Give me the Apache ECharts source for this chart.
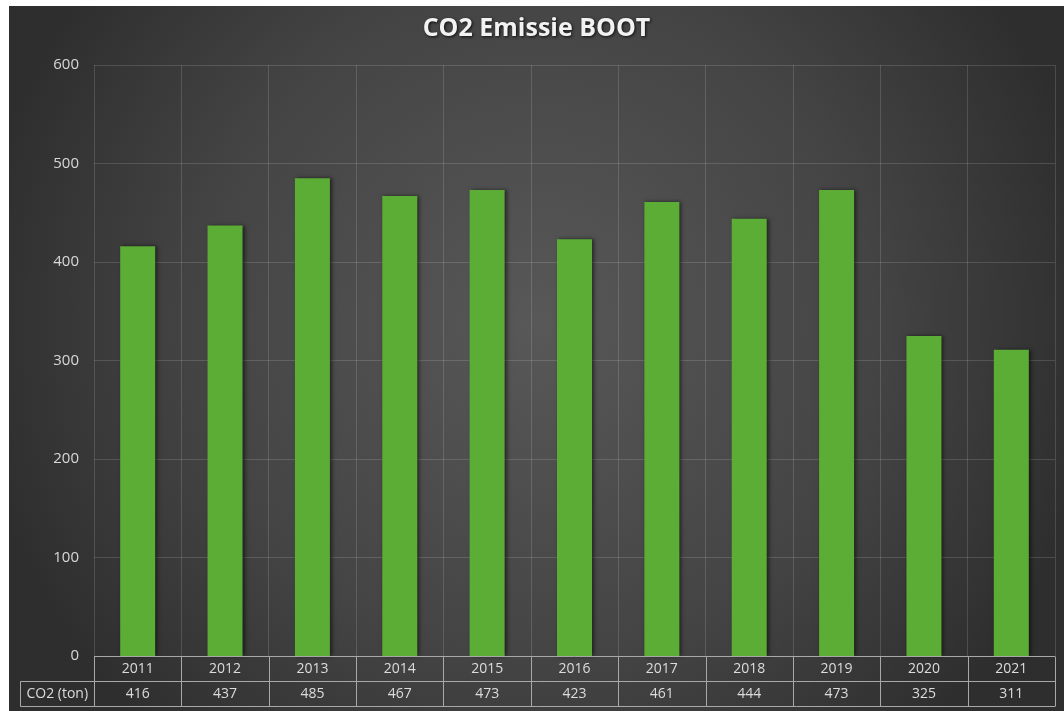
<!DOCTYPE html>
<html><head><meta charset="utf-8">
<script src="https://cdn.jsdelivr.net/npm/echarts@6/dist/echarts.min.js"></script>
<style>
html,body{margin:0;padding:0;background:#ffffff;}
#c{position:absolute;left:9px;top:6px;width:1055px;height:705px;}
</style></head>
<body><div id="c"></div>
<script>
var categories = ['2011','2012','2013','2014','2015','2016','2017','2018','2019','2020','2021'];
var values = [416, 437, 485, 467, 473, 423, 461, 444, 473, 325, 311];
var seriesName = 'CO2 (ton)';
var titleText = 'CO2 Emissie BOOT';

var chart = echarts.init(document.getElementById('c'), null, {renderer:'canvas'});
var font = '"Open Sans", "Liberation Sans", sans-serif';
chart.setOption({
  animation:false,
  backgroundColor:{type:'radial', x:0.5, y:0.45, r:0.8,
    colorStops:[{offset:0,color:'#585858'},{offset:0.6,color:'#444444'},{offset:1,color:'#2e2e2e'}]},
  title:{text:titleText, left:'center', top:5,
    textStyle:{color:'#f2f2f2', fontFamily:font, fontWeight:'bold', fontSize:25,
      textShadowColor:'rgba(0,0,0,0.8)', textShadowBlur:3, textShadowOffsetX:1, textShadowOffsetY:1}},
  grid:{left:85, right:9, top:59, bottom:55},
  xAxis:{type:'category', data:categories, boundaryGap:true,
    axisLine:{show:false}, axisTick:{show:false}, axisLabel:{show:false},
    splitLine:{show:true, lineStyle:{color:'rgba(255,255,255,0.14)', width:1}}},
  yAxis:{type:'value', min:0, max:600, interval:100,
    axisLine:{show:false}, axisTick:{show:false},
    axisLabel:{color:'#d8d8d8', fontFamily:font, fontSize:15, margin:15},
    splitLine:{lineStyle:{color:'rgba(255,255,255,0.14)', width:1}}},
  series:[{name:seriesName, type:'bar', data:values, barWidth:35,
    itemStyle:{color:'#5cad35', shadowColor:'rgba(0,0,0,0.55)', shadowBlur:4, shadowOffsetX:2, shadowOffsetY:0}}]
});

// data table below the plot, positioned through the axis scales
var g = [];
var c0 = chart.convertToPixel({xAxisIndex:0}, 0);
var c1 = chart.convertToPixel({xAxisIndex:0}, 1);
var step = c1 - c0;
var y0 = Math.round(chart.convertToPixel({yAxisIndex:0}, 0)) + 0.5;
var rowH = 25;
var xL = c0 - step/2;
var xR = chart.convertToPixel({xAxisIndex:0}, categories.length-1) + step/2;
var xTab = 11.5;
var lineCol = '#a8a8a8';
function hl(x1,x2,y){g.push({type:'line', shape:{x1:x1,y1:y,x2:x2,y2:y}, style:{stroke:lineCol, lineWidth:1}, z:10});}
function vl(x,y1,y2){g.push({type:'line', shape:{x1:x,y1:y1,x2:x,y2:y2}, style:{stroke:lineCol, lineWidth:1}, z:10});}
hl(xL, xR, y0);
hl(xTab, xR, y0+rowH);
hl(xTab, xR, y0+2*rowH);
vl(xTab, y0+rowH, y0+2*rowH);
for (var i=0;i<=categories.length;i++){
  var bx = Math.round(xL + i*step) + 0.5;
  vl(bx, y0, y0+2*rowH);
}
function txt(x,y,s){
  g.push({type:'text', x:x, y:y, z:11,
    style:{text:s, fill:'#dcdcdc', font:'14px ' + font, textAlign:'center', textVerticalAlign:'middle'}});
}
for (var j=0;j<categories.length;j++){
  var cx = chart.convertToPixel({xAxisIndex:0}, j);
  txt(cx, y0 + rowH/2, categories[j]);
  txt(cx, y0 + rowH*1.5, String(values[j]));
}
txt((xTab + xL)/2, y0 + rowH*1.5, seriesName);
chart.setOption({graphic:g});
</script></body></html>
